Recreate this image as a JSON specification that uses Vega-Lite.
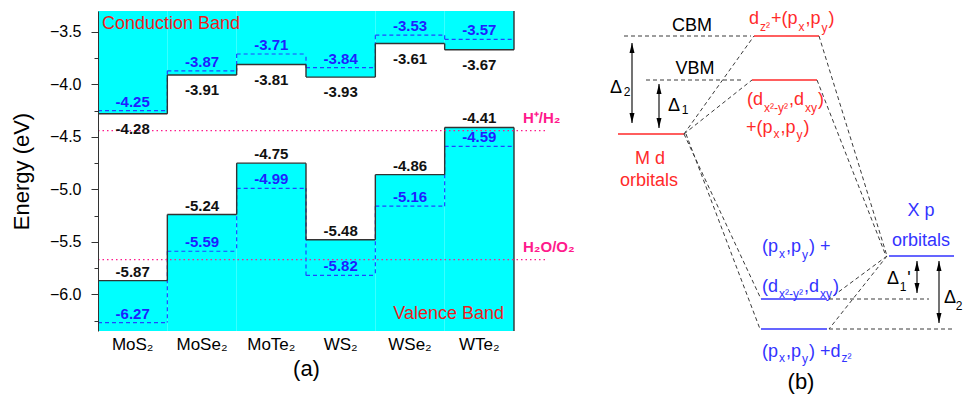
{
  "$schema": "https://vega.github.io/schema/vega-lite/v6.json",
  "padding": {"left": 10, "top": 10, "right": 0, "bottom": 0},
  "spacing": 14,
  "config": {"view": {"stroke": null}, "font": "Liberation Sans"},
  "datasets": {
    "bands": [
      {"mat": "MoS₂", "cbm": -4.28, "vbm": -5.87, "cbmH": -4.25, "vbmH": -6.27},
      {"mat": "MoSe₂", "cbm": -3.91, "vbm": -5.24, "cbmH": -3.87, "vbmH": -5.59},
      {"mat": "MoTe₂", "cbm": -3.81, "vbm": -4.75, "cbmH": -3.71, "vbmH": -4.99},
      {"mat": "WS₂", "cbm": -3.93, "vbm": -5.48, "cbmH": -3.84, "vbmH": -5.82},
      {"mat": "WSe₂", "cbm": -3.61, "vbm": -4.86, "cbmH": -3.53, "vbmH": -5.16},
      {"mat": "WTe₂", "cbm": -3.67, "vbm": -4.41, "cbmH": -3.57, "vbmH": -4.59}
    ],
    "refs": [
      {"couple": "H⁺/H₂", "E": -4.44},
      {"couple": "H₂O/O₂", "E": -5.67}
    ],
    "seg": [
      {"x": 165, "y": 366, "x2": 230, "y2": 366, "k": "metal"},
      {"x": 163, "y": 322, "x2": 228, "y2": 322, "k": "metal"},
      {"x": 29, "y": 268, "x2": 95, "y2": 268, "k": "metal"},
      {"x": 300, "y": 146, "x2": 365, "y2": 146, "k": "chalc"},
      {"x": 172, "y": 103, "x2": 238, "y2": 103, "k": "chalc"},
      {"x": 172, "y": 73, "x2": 238, "y2": 73, "k": "chalc"},
      {"x": 35, "y": 366, "x2": 162, "y2": 366, "k": "guide"},
      {"x": 57, "y": 322, "x2": 152, "y2": 322, "k": "guide"},
      {"x": 240, "y": 103, "x2": 340, "y2": 103, "k": "guide"},
      {"x": 240, "y": 73, "x2": 365, "y2": 73, "k": "guide"},
      {"x": 95, "y": 268, "x2": 165, "y2": 366, "k": "guide"},
      {"x": 95, "y": 268, "x2": 163, "y2": 322, "k": "guide"},
      {"x": 95, "y": 268, "x2": 172, "y2": 103, "k": "guide"},
      {"x": 97, "y": 268, "x2": 171, "y2": 73, "k": "guide"},
      {"x": 230, "y": 366, "x2": 298, "y2": 146, "k": "guide"},
      {"x": 228, "y": 322, "x2": 297, "y2": 146, "k": "guide"},
      {"x": 298, "y": 146, "x2": 240, "y2": 103, "k": "guide"},
      {"x": 298, "y": 146, "x2": 240, "y2": 73, "k": "guide"},
      {"x": 43, "y": 359, "x2": 43, "y2": 279, "k": "arrow"},
      {"x": 70, "y": 318, "x2": 70, "y2": 274, "k": "arrow"},
      {"x": 328, "y": 141, "x2": 328, "y2": 109, "k": "arrow"},
      {"x": 350, "y": 141, "x2": 350, "y2": 79, "k": "arrow"}
    ],
    "heads": [
      {"x": 43, "y": 354, "dir": "up"}, {"x": 43, "y": 284, "dir": "down"},
      {"x": 70, "y": 313, "dir": "up"}, {"x": 70, "y": 279, "dir": "down"},
      {"x": 328, "y": 136, "dir": "up"}, {"x": 328, "y": 114, "dir": "down"},
      {"x": 350, "y": 136, "dir": "up"}, {"x": 350, "y": 84, "dir": "down"}
    ],
    "btags": [
      {"x": 103, "y": 371, "t": "CBM", "kind": "main", "k": "plain"},
      {"x": 106, "y": 328, "t": "VBM", "kind": "main", "k": "plain"},
      {"x": 61, "y": 238, "t": "M d", "kind": "main", "k": "metal"},
      {"x": 60, "y": 216, "t": "orbitals", "kind": "main", "k": "metal"},
      {"x": 332, "y": 186, "t": "X p", "kind": "main", "k": "chalc"},
      {"x": 332, "y": 156, "t": "orbitals", "kind": "main", "k": "chalc"},
      {"x": 212, "y": 13, "t": "(b)", "kind": "big", "k": "plain"},
      {"x": 27, "y": 309, "t": "Δ", "kind": "main", "k": "plain"},
      {"x": 38, "y": 306, "t": "2", "kind": "sub", "k": "plain"},
      {"x": 85, "y": 291, "t": "Δ", "kind": "main", "k": "plain"},
      {"x": 96, "y": 288, "t": "1", "kind": "sub", "k": "plain"},
      {"x": 304, "y": 118, "t": "Δ", "kind": "main", "k": "plain"},
      {"x": 314, "y": 111, "t": "1", "kind": "sub", "k": "plain"},
      {"x": 320, "y": 118, "t": "'", "kind": "main", "k": "plain"},
      {"x": 361, "y": 99, "t": "Δ", "kind": "main", "k": "plain"},
      {"x": 370, "y": 92, "t": "2", "kind": "sub", "k": "plain"}
    ],
    "bpieces": [
      {"x": 160, "y": 378, "t": "d", "kind": "main", "k": "metal"},
      {"x": 171, "y": 371, "t": "z²", "kind": "sub", "k": "metal"},
      {"x": 182, "y": 378, "t": "+(p", "kind": "main", "k": "metal"},
      {"x": 209.5, "y": 371, "t": "x", "kind": "sub", "k": "metal"},
      {"x": 216.5, "y": 378, "t": ",p", "kind": "main", "k": "metal"},
      {"x": 232.5, "y": 370, "t": "y", "kind": "sub", "k": "metal"},
      {"x": 239.5, "y": 378, "t": ")", "kind": "main", "k": "metal"},

      {"x": 158, "y": 297, "t": "(d", "kind": "main", "k": "metal"},
      {"x": 175, "y": 290, "t": "x²-y²", "kind": "sub", "k": "metal"},
      {"x": 200, "y": 297, "t": ",d", "kind": "main", "k": "metal"},
      {"x": 216, "y": 290, "t": "xy", "kind": "sub", "k": "metal"},
      {"x": 229, "y": 297, "t": ")", "kind": "main", "k": "metal"},

      {"x": 157, "y": 269, "t": "+(p", "kind": "main", "k": "metal"},
      {"x": 184.5, "y": 264, "t": "x", "kind": "sub", "k": "metal"},
      {"x": 191.5, "y": 269, "t": ",p", "kind": "main", "k": "metal"},
      {"x": 207.5, "y": 263, "t": "y", "kind": "sub", "k": "metal"},
      {"x": 214.5, "y": 269, "t": ")", "kind": "main", "k": "metal"},

      {"x": 173, "y": 150, "t": "(p", "kind": "main", "k": "chalc"},
      {"x": 190, "y": 144, "t": "x", "kind": "sub", "k": "chalc"},
      {"x": 197, "y": 150, "t": ",p", "kind": "main", "k": "chalc"},
      {"x": 213, "y": 143, "t": "y", "kind": "sub", "k": "chalc"},
      {"x": 220, "y": 150, "t": ") +", "kind": "main", "k": "chalc"},

      {"x": 173, "y": 110, "t": "(d", "kind": "main", "k": "chalc"},
      {"x": 190, "y": 104, "t": "x²-y²", "kind": "sub", "k": "chalc"},
      {"x": 215, "y": 110, "t": ",d", "kind": "main", "k": "chalc"},
      {"x": 231, "y": 104, "t": "xy", "kind": "sub", "k": "chalc"},
      {"x": 244, "y": 110, "t": ")", "kind": "main", "k": "chalc"},

      {"x": 173, "y": 45, "t": "(p", "kind": "main", "k": "chalc"},
      {"x": 190, "y": 40, "t": "x", "kind": "sub", "k": "chalc"},
      {"x": 197, "y": 45, "t": ",p", "kind": "main", "k": "chalc"},
      {"x": 213, "y": 39, "t": "y", "kind": "sub", "k": "chalc"},
      {"x": 220, "y": 45, "t": ") +d", "kind": "main", "k": "chalc"},
      {"x": 252.5, "y": 40, "t": "z²", "kind": "sub", "k": "chalc"}
    ]
  },
  "hconcat": [
    {
      "width": 416,
      "height": 320,
      "resolve": {"axis": {"y": "independent"}},
      "layer": [
        {
          "data": {"name": "bands"},
          "mark": {"type": "rect", "color": "#00ffff", "strokeWidth": 0},
          "encoding": {
            "x": {"field": "mat", "type": "nominal", "scale": {"domain": ["MoS₂", "MoSe₂", "MoTe₂", "WS₂", "WSe₂", "WTe₂"], "paddingInner": 0, "paddingOuter": 0},
              "axis": {"title": "(a)", "domain": false, "ticks": false, "labelFontSize": 17, "labelPadding": 5, "labelAngle": 0, "labelColor": "#000", "titleFontSize": 22, "titleFontWeight": "normal", "titleColor": "#000", "titlePadding": 6}},
            "y": {"field": "cbm", "type": "quantitative", "scale": {"domain": [-6.35, -3.3], "nice": false, "zero": false},
              "axis": {"orient": "left", "title": "Energy (eV)", "values": [-6, -5.5, -5, -4.5, -4, -3.5],
                "format": ".1f", "tickSize": 7,
                "labelPadding": 10, "labelFontSize": 16, "labelColor": "#000", "labelOverlap": false, "titleFontSize": 22, "titleFontWeight": "normal", "titleColor": "#000", "titlePadding": 16,
                "grid": false, "domainColor": "#333", "tickColor": "#333", "zindex": 1}},
            "y2": {"datum": -3.3}
          }
        },
        {
          "data": {"name": "bands"},
          "mark": {"type": "rect", "color": "#00ffff", "strokeWidth": 0},
          "encoding": {
            "x": {"field": "mat", "type": "nominal", "scale": {"domain": ["MoS₂", "MoSe₂", "MoTe₂", "WS₂", "WSe₂", "WTe₂"], "paddingInner": 0, "paddingOuter": 0}},
            "y": {"field": "vbm", "type": "quantitative", "scale": {"domain": [-6.35, -3.3], "nice": false, "zero": false},
              "axis": {"orient": "left", "title": null, "values": [-6.25, -5.75, -5.25, -4.75, -4.25, -3.75], "labels": false, "domain": false, "grid": false, "tickSize": 4, "tickColor": "#333", "zindex": 1}},
            "y2": {"datum": -6.35}
          }
        },
        {
          "data": {"name": "bands"},
          "transform": [{"fold": ["cbmH", "vbmH"], "as": ["lev", "E"]}],
          "mark": {"type": "rule", "color": "#2244ff", "strokeWidth": 1.2, "strokeDash": [4, 3]},
          "encoding": {
            "x": {"field": "mat", "type": "nominal", "bandPosition": 0, "scale": {"domain": ["MoS₂", "MoSe₂", "MoTe₂", "WS₂", "WSe₂", "WTe₂"], "paddingInner": 0, "paddingOuter": 0}},
            "x2": {"field": "mat", "bandPosition": 1},
            "y": {"field": "E", "type": "quantitative", "scale": {"domain": [-6.35, -3.3], "nice": false, "zero": false}, "axis": null}
          }
        },
        {
          "data": {"name": "bands"},
          "transform": [{"fold": ["cbmH", "vbmH"], "as": ["lev", "E"]}, {"window": [{"op": "lag", "field": "E", "as": "prev"}], "groupby": ["lev"]}, {"filter": "datum.prev != null"}],
          "mark": {"type": "rule", "color": "#2244ff", "strokeWidth": 1.2, "strokeDash": [4, 3]},
          "encoding": {
            "x": {"field": "mat", "type": "nominal", "bandPosition": 0, "scale": {"domain": ["MoS₂", "MoSe₂", "MoTe₂", "WS₂", "WSe₂", "WTe₂"], "paddingInner": 0, "paddingOuter": 0}},
            "y": {"field": "E", "type": "quantitative", "scale": {"domain": [-6.35, -3.3], "nice": false, "zero": false}, "axis": null},
            "y2": {"field": "prev"}
          }
        },
        {
          "data": {"name": "bands"},
          "transform": [{"fold": ["cbm", "vbm"], "as": ["lev", "E"]}],
          "mark": {"type": "rule", "color": "#333333", "strokeWidth": 1.4},
          "encoding": {
            "x": {"field": "mat", "type": "nominal", "bandPosition": 0, "scale": {"domain": ["MoS₂", "MoSe₂", "MoTe₂", "WS₂", "WSe₂", "WTe₂"], "paddingInner": 0, "paddingOuter": 0}},
            "x2": {"field": "mat", "bandPosition": 1},
            "y": {"field": "E", "type": "quantitative", "scale": {"domain": [-6.35, -3.3], "nice": false, "zero": false}, "axis": null}
          }
        },
        {
          "data": {"name": "bands"},
          "transform": [{"fold": ["cbm", "vbm"], "as": ["lev", "E"]}, {"window": [{"op": "lag", "field": "E", "as": "prev"}], "groupby": ["lev"]}, {"filter": "datum.prev != null"}],
          "mark": {"type": "rule", "color": "#333333", "strokeWidth": 1.4},
          "encoding": {
            "x": {"field": "mat", "type": "nominal", "bandPosition": 0, "scale": {"domain": ["MoS₂", "MoSe₂", "MoTe₂", "WS₂", "WSe₂", "WTe₂"], "paddingInner": 0, "paddingOuter": 0}},
            "y": {"field": "E", "type": "quantitative", "scale": {"domain": [-6.35, -3.3], "nice": false, "zero": false}, "axis": null},
            "y2": {"field": "prev"}
          }
        },
        {
          "data": {"name": "bands"},
          "transform": [{"window": [{"op": "lead", "field": "mat", "as": "nxt"}]}, {"filter": "datum.nxt == null"}],
          "mark": {"type": "rule", "color": "#333333", "strokeWidth": 1.4},
          "encoding": {
            "x": {"field": "mat", "type": "nominal", "bandPosition": 1, "scale": {"domain": ["MoS₂", "MoSe₂", "MoTe₂", "WS₂", "WSe₂", "WTe₂"], "paddingInner": 0, "paddingOuter": 0}},
            "y": {"field": "cbm", "type": "quantitative", "scale": {"domain": [-6.35, -3.3], "nice": false, "zero": false}, "axis": null},
            "y2": {"datum": -3.3}
          }
        },
        {
          "data": {"name": "bands"},
          "transform": [{"window": [{"op": "lead", "field": "mat", "as": "nxt"}]}, {"filter": "datum.nxt == null"}],
          "mark": {"type": "rule", "color": "#333333", "strokeWidth": 1.4},
          "encoding": {
            "x": {"field": "mat", "type": "nominal", "bandPosition": 1, "scale": {"domain": ["MoS₂", "MoSe₂", "MoTe₂", "WS₂", "WSe₂", "WTe₂"], "paddingInner": 0, "paddingOuter": 0}},
            "y": {"field": "vbm", "type": "quantitative", "scale": {"domain": [-6.35, -3.3], "nice": false, "zero": false}, "axis": null},
            "y2": {"datum": -6.35}
          }
        },
        {
          "data": {"name": "refs"},
          "mark": {"type": "rule", "color": "#ff1a8c", "strokeWidth": 1.2, "strokeDash": [1.5, 3], "x2Offset": 34, "clip": false},
          "encoding": {
            "x": {"datum": "MoS₂", "type": "nominal", "bandPosition": 0, "scale": {"domain": ["MoS₂", "MoSe₂", "MoTe₂", "WS₂", "WSe₂", "WTe₂"], "paddingInner": 0, "paddingOuter": 0}},
            "x2": {"datum": "WTe₂", "bandPosition": 1},
            "y": {"field": "E", "type": "quantitative", "scale": {"domain": [-6.35, -3.3], "nice": false, "zero": false}, "axis": null}
          }
        },
        {
          "data": {"name": "refs"},
          "mark": {"type": "text", "color": "#ff1a8c", "fontSize": 15, "fontWeight": "bold", "align": "left", "baseline": "alphabetic", "dx": 9, "dy": -8},
          "encoding": {
            "x": {"datum": "WTe₂", "type": "nominal", "bandPosition": 1, "scale": {"domain": ["MoS₂", "MoSe₂", "MoTe₂", "WS₂", "WSe₂", "WTe₂"], "paddingInner": 0, "paddingOuter": 0}},
            "y": {"field": "E", "type": "quantitative", "scale": {"domain": [-6.35, -3.3], "nice": false, "zero": false}, "axis": null},
            "text": {"field": "couple"}
          }
        },
        {
          "data": {"name": "bands"},
          "transform": [{"fold": ["cbmH", "vbmH"], "as": ["lev", "E"]}],
          "mark": {"type": "text", "color": "#1f1fff", "fontSize": 15, "fontWeight": "bold", "baseline": "alphabetic", "dy": -4},
          "encoding": {
            "x": {"field": "mat", "type": "nominal", "scale": {"domain": ["MoS₂", "MoSe₂", "MoTe₂", "WS₂", "WSe₂", "WTe₂"], "paddingInner": 0, "paddingOuter": 0}},
            "y": {"field": "E", "type": "quantitative", "scale": {"domain": [-6.35, -3.3], "nice": false, "zero": false}, "axis": null},
            "text": {"field": "E", "type": "nominal"}
          }
        },
        {
          "data": {"name": "bands"},
          "mark": {"type": "text", "color": "#111", "fontSize": 15, "fontWeight": "bold", "baseline": "alphabetic", "dy": 20},
          "encoding": {
            "x": {"field": "mat", "type": "nominal", "scale": {"domain": ["MoS₂", "MoSe₂", "MoTe₂", "WS₂", "WSe₂", "WTe₂"], "paddingInner": 0, "paddingOuter": 0}},
            "y": {"field": "cbm", "type": "quantitative", "scale": {"domain": [-6.35, -3.3], "nice": false, "zero": false}, "axis": null},
            "text": {"field": "cbm", "type": "nominal"}
          }
        },
        {
          "data": {"name": "bands"},
          "mark": {"type": "text", "color": "#111", "fontSize": 15, "fontWeight": "bold", "baseline": "alphabetic", "dy": -4},
          "encoding": {
            "x": {"field": "mat", "type": "nominal", "scale": {"domain": ["MoS₂", "MoSe₂", "MoTe₂", "WS₂", "WSe₂", "WTe₂"], "paddingInner": 0, "paddingOuter": 0}},
            "y": {"field": "vbm", "type": "quantitative", "scale": {"domain": [-6.35, -3.3], "nice": false, "zero": false}, "axis": null},
            "text": {"field": "vbm", "type": "nominal"}
          }
        },
        {
          "data": {"values": [{"t": "Conduction Band"}]},
          "mark": {"type": "text", "color": "#ee1c1c", "fontSize": 18, "align": "left", "baseline": "alphabetic", "dx": 4},
          "encoding": {
            "x": {"datum": "MoS₂", "type": "nominal", "bandPosition": 0, "scale": {"domain": ["MoS₂", "MoSe₂", "MoTe₂", "WS₂", "WSe₂", "WTe₂"], "paddingInner": 0, "paddingOuter": 0}},
            "y": {"datum": -3.474, "type": "quantitative", "scale": {"domain": [-6.35, -3.3], "nice": false, "zero": false}, "axis": null},
            "text": {"field": "t"}
          }
        },
        {
          "data": {"values": [{"t": "Valence Band"}]},
          "mark": {"type": "text", "color": "#ee1c1c", "fontSize": 18, "align": "right", "baseline": "alphabetic", "dx": -10},
          "encoding": {
            "x": {"datum": "WTe₂", "type": "nominal", "bandPosition": 1, "scale": {"domain": ["MoS₂", "MoSe₂", "MoTe₂", "WS₂", "WSe₂", "WTe₂"], "paddingInner": 0, "paddingOuter": 0}},
            "y": {"datum": -6.236, "type": "quantitative", "scale": {"domain": [-6.35, -3.3], "nice": false, "zero": false}, "axis": null},
            "text": {"field": "t"}
          }
        }
      ]
    },
    {
      "width": 376,
      "height": 391,
      "layer": [
        {
          "data": {"name": "seg"},
          "mark": {"type": "rule", "clip": false},
          "encoding": {
            "x": {"field": "x", "type": "quantitative", "scale": {"domain": [0, 376], "nice": false, "zero": false}, "axis": null},
            "y": {"field": "y", "type": "quantitative", "scale": {"domain": [0, 391], "nice": false, "zero": false}, "axis": null},
            "x2": {"field": "x2"},
            "y2": {"field": "y2"},
            "color": {"field": "k", "type": "nominal", "scale": {"domain": ["metal", "chalc", "guide", "arrow", "plain"], "range": ["#ff2a2a", "#3333ff", "#3a3a3a", "#000000", "#000000"]}, "legend": null},
            "strokeDash": {"field": "k", "type": "nominal", "scale": {"type": "ordinal", "domain": ["metal", "chalc", "guide", "arrow"], "range": [[1, 0], [1, 0], [4, 3], [1, 0]]}, "legend": null},
            "strokeWidth": {"field": "k", "type": "nominal", "scale": {"type": "ordinal", "domain": ["metal", "chalc", "guide", "arrow"], "range": [1.5, 1.5, 1, 1.1]}, "legend": null}
          }
        },
        {
          "data": {"name": "heads"},
          "mark": {"type": "point", "filled": true, "color": "#000", "size": 100, "opacity": 1},
          "encoding": {
            "x": {"field": "x", "type": "quantitative", "scale": {"domain": [0, 376], "nice": false, "zero": false}, "axis": null},
            "y": {"field": "y", "type": "quantitative", "scale": {"domain": [0, 391], "nice": false, "zero": false}, "axis": null},
            "shape": {"field": "dir", "type": "nominal", "scale": {"domain": ["up", "down"], "range": ["M0,-1L0.5,1L-0.5,1Z", "M0,1L0.5,-1L-0.5,-1Z"]}, "legend": null}
          }
        },
        {
          "data": {"name": "btags"},
          "mark": {"type": "text", "align": "center", "baseline": "alphabetic"},
          "encoding": {
            "x": {"field": "x", "type": "quantitative", "scale": {"domain": [0, 376], "nice": false, "zero": false}, "axis": null},
            "y": {"field": "y", "type": "quantitative", "scale": {"domain": [0, 391], "nice": false, "zero": false}, "axis": null},
            "text": {"field": "t"},
            "color": {"field": "k", "type": "nominal", "scale": {"domain": ["metal", "chalc", "guide", "arrow", "plain"], "range": ["#ff2a2a", "#3333ff", "#3a3a3a", "#000000", "#000000"]}, "legend": null},
            "size": {"field": "kind", "type": "nominal", "scale": {"type": "ordinal", "domain": ["main", "sub", "big"], "range": [18, 12, 22]}, "legend": null}
          }
        },
        {
          "data": {"name": "bpieces"},
          "mark": {"type": "text", "align": "left", "baseline": "alphabetic"},
          "encoding": {
            "x": {"field": "x", "type": "quantitative", "scale": {"domain": [0, 376], "nice": false, "zero": false}, "axis": null},
            "y": {"field": "y", "type": "quantitative", "scale": {"domain": [0, 391], "nice": false, "zero": false}, "axis": null},
            "text": {"field": "t"},
            "color": {"field": "k", "type": "nominal", "scale": {"domain": ["metal", "chalc", "guide", "arrow", "plain"], "range": ["#ff2a2a", "#3333ff", "#3a3a3a", "#000000", "#000000"]}, "legend": null},
            "size": {"field": "kind", "type": "nominal", "scale": {"type": "ordinal", "domain": ["main", "sub", "big"], "range": [18, 12, 22]}, "legend": null}
          }
        }
      ]
    }
  ]
}
